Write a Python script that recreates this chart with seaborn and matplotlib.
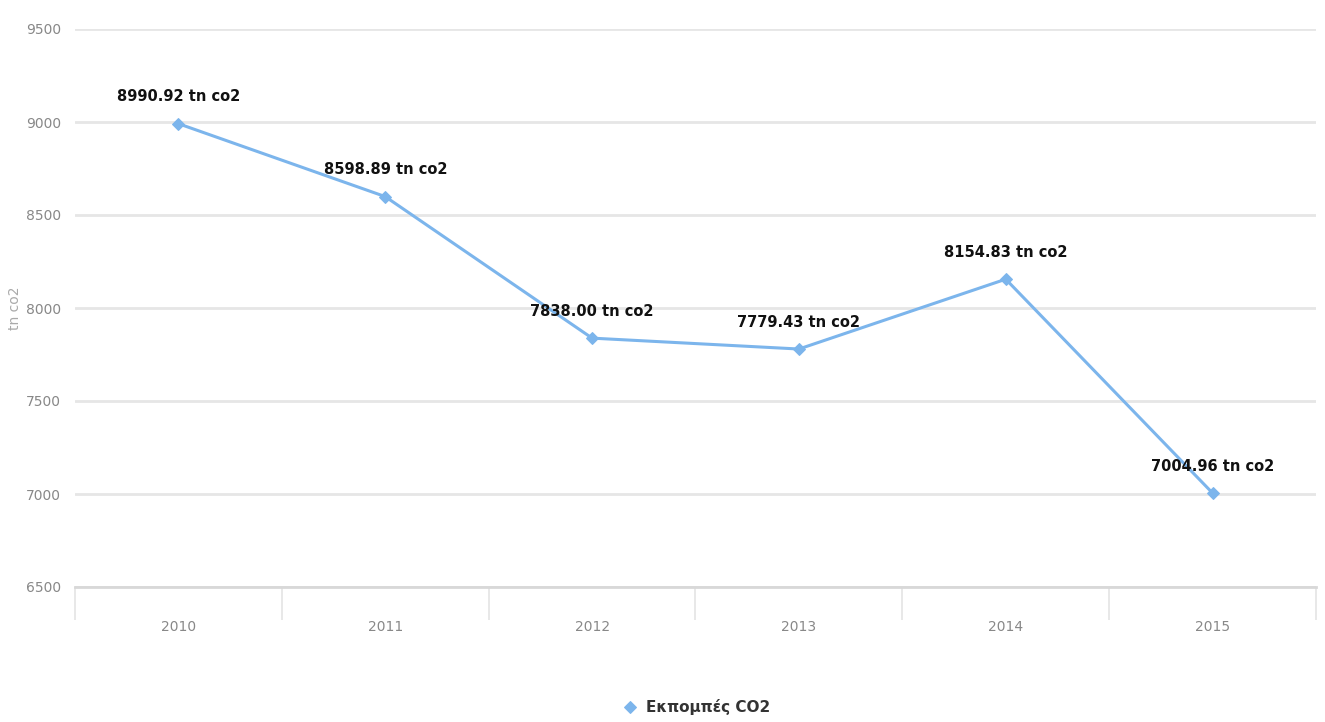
import matplotlib
matplotlib.use("Agg")
import matplotlib.pyplot as plt
import seaborn as sns
import pandas as pd
import numpy as np

years = ["2010", "2011", "2012", "2013", "2014", "2015"]
emissions = [8990.92, 8598.89, 7838.00, 7779.43, 8154.83, 7004.96]
series_name = "Εκπομπές CO2"
y_label = "tn co2"
y_ticks = [6500, 7000, 7500, 8000, 8500, 9000, 9500]

sns.set_theme(style="white")
fam = ["Liberation Sans Narrow", "DejaVu Sans"]
plt.rcParams["font.family"] = fam

df = pd.DataFrame({"year": years, "value": emissions, "series": series_name})

fig = plt.figure(figsize=(13.25, 7.22), dpi=100)
ax = fig.add_axes([75 / 1325, 1 - 587 / 722, (1316 - 75) / 1325, (587 - 29) / 722])

line_color = "#7cb5ec"
sns.lineplot(data=df, x="year", y="value", hue="series", palette=[line_color],
             marker="D", markersize=6, markeredgecolor=line_color, linewidth=2.2,
             ax=ax, legend=True, sort=False)

for i, v in enumerate(emissions):
    ax.annotate(f"{v:.2f} tn co2", xy=(i, v), xytext=(0, 14), textcoords="offset points",
                ha="center", va="bottom", fontsize=10.5, fontweight="bold", color="#111111",
                family=fam)

ax.set_ylim(6500, 9500)
ax.set_xlim(-0.5, len(years) - 0.5)
ax.set_yticks(y_ticks)
ax.set_yticklabels([str(t) for t in y_ticks], color="#888888", fontsize=10)
ax.yaxis.grid(True, color="#e6e6e6", linewidth=2)
ax.set_axisbelow(True)
ax.tick_params(axis="y", length=0, pad=10)

ax.set_xticks(range(len(years)))
ax.set_xticklabels(years, color="#888888", fontsize=10)
ax.tick_params(axis="x", which="major", length=0, pad=24, bottom=True)
ax.set_xticks(np.arange(-0.5, len(years), 1.0), minor=True)
ax.tick_params(axis="x", which="minor", bottom=True, length=24, width=1.2,
               color="#e4e4e4", direction="out")

for s in ["top", "right", "left"]:
    ax.spines[s].set_visible(False)
ax.spines["bottom"].set_color("#d8d8d8")
ax.spines["bottom"].set_linewidth(2)

ax.set_xlabel("")
ax.set_ylabel(y_label, color="#aaaaaa", fontsize=10)
ax.yaxis.set_label_coords(-0.043, 0.5)

handles, labels = ax.get_legend_handles_labels()
leg = ax.legend(handles, labels, loc="center", bbox_to_anchor=(0.5, -0.215),
                frameon=False, handlelength=1.2, handletextpad=0.4,
                prop={"family": fam, "weight": "bold", "size": 11})
for t in leg.get_texts():
    t.set_color("#333333")
for h in leg.legend_handles:
    h.set_linewidth(0)

fig.savefig("out.png", dpi=100)
